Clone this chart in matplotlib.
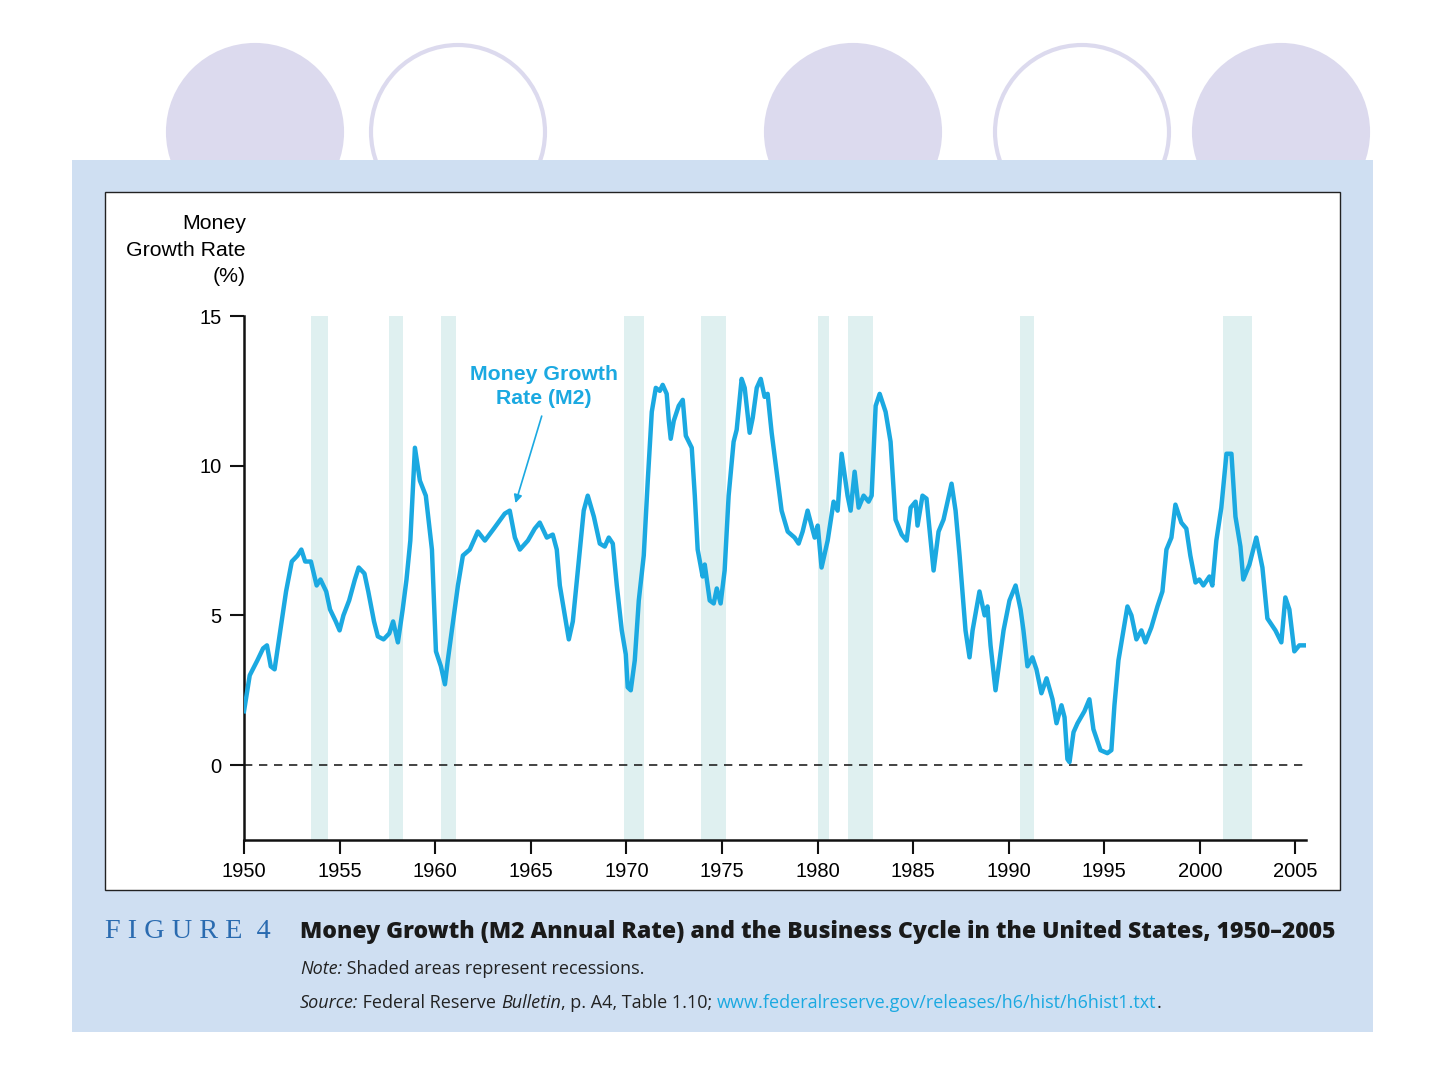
import matplotlib.pyplot as plt
from matplotlib.patches import Rectangle, Ellipse

years = [1950.0, 1950.3, 1950.7, 1951.0, 1951.2, 1951.4, 1951.6, 1951.9, 1952.2, 1952.5, 1952.8, 1953.0,
         1953.2, 1953.5, 1953.8, 1954.0, 1954.3, 1954.5, 1954.8, 1955.0, 1955.2, 1955.5, 1955.8, 1956.0,
         1956.3, 1956.5, 1956.8, 1957.0, 1957.3, 1957.6, 1957.8, 1958.05, 1958.3, 1958.5, 1958.7,
         1958.94, 1959.2, 1959.51, 1959.83, 1960.04, 1960.3, 1960.51, 1960.66, 1960.87, 1961.19, 1961.45,
         1961.81, 1962.23, 1962.6, 1963.07, 1963.64, 1963.9, 1964.17, 1964.43, 1964.85, 1965.21, 1965.47,
         1965.84, 1966.15, 1966.36, 1966.52, 1966.83, 1966.99, 1967.2, 1967.46, 1967.77, 1967.98, 1968.3,
         1968.61, 1968.87, 1969.08, 1969.29, 1969.5, 1969.76, 1969.97, 1970.07, 1970.23, 1970.44, 1970.65,
         1970.91, 1971.12, 1971.33, 1971.54, 1971.75, 1971.9, 1972.11, 1972.22, 1972.32, 1972.48, 1972.74,
         1972.95, 1973.11, 1973.42, 1973.58, 1973.73, 1973.99, 1974.1, 1974.36, 1974.57, 1974.73, 1974.93,
         1975.14, 1975.35, 1975.61, 1975.77, 1976.03, 1976.19, 1976.45, 1976.61, 1976.82, 1977.03, 1977.23,
         1977.39, 1977.6, 1977.86, 1978.12, 1978.44, 1978.8, 1979.01, 1979.22, 1979.48, 1979.85, 1980.01,
         1980.21, 1980.53, 1980.84, 1981.05, 1981.26, 1981.57, 1981.73, 1981.94, 1982.15, 1982.41, 1982.67,
         1982.83, 1983.04, 1983.25, 1983.56, 1983.82, 1984.08, 1984.4, 1984.66, 1984.87, 1985.13, 1985.23,
         1985.49, 1985.7, 1986.07, 1986.33, 1986.59, 1986.8, 1987.01, 1987.22, 1987.43, 1987.64, 1987.74,
         1987.95, 1988.11, 1988.47, 1988.74, 1988.89, 1989.05, 1989.31, 1989.52, 1989.73, 1990.04, 1990.36,
         1990.62, 1990.77, 1990.98, 1991.24, 1991.45, 1991.71, 1991.98, 1992.29, 1992.5, 1992.76, 1992.92,
         1993.07, 1993.18, 1993.39, 1993.6, 1993.96, 1994.22, 1994.43, 1994.59, 1994.8, 1995.16, 1995.37,
         1995.53, 1995.74, 1996.0, 1996.21, 1996.42, 1996.68, 1996.94, 1997.15, 1997.46, 1997.78, 1998.04,
         1998.25, 1998.51, 1998.72, 1999.03, 1999.29, 1999.5, 1999.77, 1999.97, 2000.18, 2000.5, 2000.65,
         2000.86, 2001.12, 2001.39, 2001.65, 2001.86, 2002.12, 2002.27, 2002.59, 2002.95, 2003.27, 2003.53,
         2003.95, 2004.26, 2004.47, 2004.68, 2004.94, 2005.2, 2005.46]
m2_growth = [1.8, 3.0, 3.5, 3.9, 4.0, 3.3, 3.2, 4.5, 5.8, 6.8, 7.0, 7.2,
             6.8, 6.8, 6.0, 6.2, 5.8, 5.2, 4.8, 4.5, 5.0, 5.5, 6.2, 6.6,
             6.4, 5.8, 4.8, 4.3, 4.2, 4.4, 4.8, 4.1, 5.2, 6.2, 7.5,
             10.6, 9.5, 9.0, 7.2, 3.8, 3.3, 2.7, 3.5, 4.5, 6.0, 7.0,
             7.2, 7.8, 7.5, 7.9, 8.4, 8.5, 7.6, 7.2, 7.5, 7.9, 8.1,
             7.6, 7.7, 7.2, 6.0, 4.8, 4.2, 4.8, 6.5, 8.5, 9.0, 8.3,
             7.4, 7.3, 7.6, 7.4, 6.0, 4.5, 3.7, 2.6, 2.5, 3.5, 5.5,
             7.0, 9.5, 11.8, 12.6, 12.5, 12.7, 12.4, 11.5, 10.9, 11.5, 12.0,
             12.2, 11.0, 10.6, 9.0, 7.2, 6.3, 6.7, 5.5, 5.4, 5.9, 5.4,
             6.5, 9.0, 10.8, 11.2, 12.9, 12.6, 11.1, 11.6, 12.6, 12.9, 12.3,
             12.4, 11.1, 9.8, 8.5, 7.8, 7.6, 7.4, 7.8, 8.5, 7.6, 8.0,
             6.6, 7.5, 8.8, 8.5, 10.4, 9.0, 8.5, 9.8, 8.6, 9.0, 8.8,
             9.0, 12.0, 12.4, 11.8, 10.8, 8.2, 7.7, 7.5, 8.6, 8.8, 8.0,
             9.0, 8.9, 6.5, 7.8, 8.2, 8.8, 9.4, 8.5, 7.0, 5.3, 4.5,
             3.6, 4.5, 5.8, 5.0, 5.3, 4.0, 2.5, 3.5, 4.5, 5.5, 6.0,
             5.2, 4.5, 3.3, 3.6, 3.2, 2.4, 2.9, 2.2, 1.4, 2.0, 1.6,
             0.2, 0.1, 1.1, 1.4, 1.8, 2.2, 1.2, 0.9, 0.5, 0.4, 0.5,
             2.0, 3.5, 4.5, 5.3, 5.0, 4.2, 4.5, 4.1, 4.6, 5.3, 5.8,
             7.2, 7.6, 8.7, 8.1, 7.9, 7.0, 6.1, 6.2, 6.0, 6.3, 6.0,
             7.5, 8.6, 10.4, 10.4, 8.3, 7.3, 6.2, 6.7, 7.6, 6.6, 4.9,
             4.5, 4.1, 5.6, 5.2, 3.8, 4.0, 4.0]

recessions = [(1953.5, 1954.4), (1957.6, 1958.3), (1960.3, 1961.1), (1969.9, 1970.9),
              (1973.9, 1975.2), (1980.0, 1980.6), (1981.6, 1982.9), (1990.6, 1991.3),
              (2001.2, 2002.7)]

LINE = '#1ba9e1'
W, H = 1440, 1080

fig = plt.figure(figsize=(14.4, 10.8), dpi=100)
fig.patch.set_facecolor('white')

# decorative circles behind the panel
for cx, filled in [(255, True), (458, False), (853, True), (1082, False), (1281, True)]:
    fig.add_artist(Ellipse((cx / W, 1 - 132 / H), 174 / W, 174 / H, transform=fig.transFigure,
                           facecolor='#dcdaee' if filled else 'white', edgecolor='#dcdaee',
                           lw=3, zorder=0))
fig.add_artist(Rectangle((72 / W, 1 - 1032 / H), (1373 - 72) / W, (1032 - 160) / H,
                         transform=fig.transFigure, facecolor='#cfdff2', edgecolor='none', zorder=1))
fig.add_artist(Rectangle((105 / W, 1 - 890 / H), (1340 - 105) / W, (890 - 192) / H,
                         transform=fig.transFigure, facecolor='white', edgecolor='#222222',
                         lw=1, zorder=2))

ax = fig.add_axes([244 / W, 1 - 840 / H, (1306 - 244) / W, (840 - 316) / H])
ax.set_zorder(3)
ax.patch.set_alpha(0)
for a, b in recessions:
    ax.axvspan(a, b, color='#dff0f0', lw=0, zorder=1)
ax.axhline(0, color='#222222', lw=1.2, ls=(0, (5, 4)), zorder=2)
ax.plot(years, m2_growth, color=LINE, lw=3.2, zorder=3, solid_joinstyle='round')

ax.set_xlim(1950, 2005.55)
ax.set_ylim(-2.5, 15)
ax.set_xticks(range(1950, 2006, 5))
ax.set_yticks([0, 5, 10, 15])
for s in ['top', 'right']:
    ax.spines[s].set_visible(False)
for s in ['left', 'bottom']:
    ax.spines[s].set_linewidth(1.8)
    ax.spines[s].set_color('#111111')
ax.spines['left'].set_bounds(-2.5, 15)
ax.tick_params(axis='both', direction='out', length=10, width=1.5, labelsize=14.5,
               color='#111111', pad=6)
for lab in ax.get_xticklabels() + ax.get_yticklabels():
    lab.set_family('Liberation Sans')

fig.text(246 / W, 1 - 214 / H, 'Money\nGrowth Rate\n(%)', ha='right', va='top',
         fontsize=15.3, family='Liberation Sans', linespacing=1.5, zorder=5)

ax.annotate('Money Growth\nRate (M2)', xy=(1964.2, 8.75), xytext=(1965.7, 12.65),
            ha='center', va='center', fontsize=15.3, fontweight='bold', color=LINE,
            family='Liberation Sans', linespacing=1.35,
            arrowprops=dict(arrowstyle='-|>', color=LINE, lw=1.2, mutation_scale=12,
                            shrinkA=4, shrinkB=0, relpos=(0.5, 0.0)))

fig.text(105 / W, 1 - 932 / H, 'F I G U R E  4', fontsize=20.3, family='Liberation Serif',
         color='#2a6bb0', va='center', zorder=5)
fig.text(300 / W, 1 - 932 / H,
         'Money Growth (M2 Annual Rate) and the Business Cycle in the United States, 1950\u20132005',
         fontsize=16.6, fontweight='heavy', family='Open Sans', color='#1a1a1a', va='center', zorder=5)


def run_text(x_px, y_px, parts):
    fig.canvas.draw()
    r = fig.canvas.get_renderer()
    x = x_px
    for s, style, color in parts:
        t = fig.text(x / W, 1 - y_px / H, s, fontsize=13, family='Open Sans', style=style,
                     color=color, va='center', zorder=5)
        x += t.get_window_extent(r).width


run_text(300, 969, [('Note:', 'italic', '#222222'),
                    (' Shaded areas represent recessions.', 'normal', '#222222')])
run_text(300, 1003, [('Source:', 'italic', '#222222'),
                     (' Federal Reserve ', 'normal', '#222222'),
                     ('Bulletin', 'italic', '#222222'),
                     (', p. A4, Table 1.10; ', 'normal', '#222222'),
                     ('www.federalreserve.gov/releases/h6/hist/h6hist1.txt', 'normal', LINE),
                     ('.', 'normal', '#222222')])

fig.savefig('out.png', dpi=100)
